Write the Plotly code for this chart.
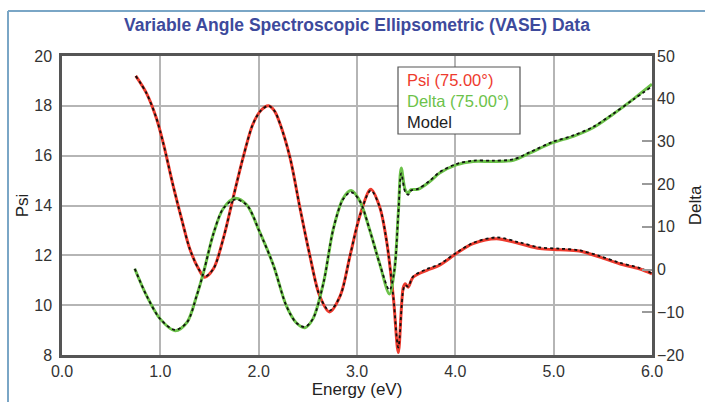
import plotly.graph_objects as go

# ---------------- data ----------------
energy_psi = [0.75, 0.86, 0.96, 1.03, 1.13, 1.22, 1.30, 1.39, 1.45, 1.54, 1.64, 1.74, 1.84, 1.94, 2.02, 2.10,
              2.16, 2.22, 2.32, 2.42, 2.52, 2.62, 2.72, 2.83, 2.93, 3.03, 3.14, 3.23, 3.30, 3.37, 3.42,
              3.47, 3.49, 3.52, 3.57, 3.71, 3.84, 4.01, 4.18, 4.42, 4.65, 4.86, 5.06, 5.26, 5.47, 5.67,
              5.87, 6.00]
psi = [19.2, 18.5, 17.5, 16.5, 14.8, 13.4, 12.25, 11.45, 11.12, 11.46, 12.67, 14.3, 15.9, 17.25, 17.8, 18.0,
       17.8, 17.25, 15.9, 13.9, 12.0, 10.38, 9.73, 10.38, 12.0, 13.6, 14.65, 13.95, 12.6, 10.3, 8.1,
       10.7, 10.86, 10.72, 11.12, 11.4, 11.6, 12.07, 12.47, 12.67, 12.47, 12.27, 12.22, 12.17, 11.93, 11.66,
       11.46, 11.26]
model_psi = [19.2, 18.5, 17.5, 16.5, 14.8, 13.4, 12.25, 11.45, 11.14, 11.46, 12.67, 14.3, 15.9, 17.25, 17.8, 18.0,
             17.8, 17.25, 15.9, 13.9, 12.0, 10.38, 9.78, 10.38, 12.0, 13.6, 14.6, 13.95, 12.6, 10.3, 8.3,
             10.6, 10.8, 10.75, 11.15, 11.45, 11.65, 12.1, 12.5, 12.72, 12.52, 12.32, 12.27, 12.2, 11.97, 11.7,
             11.5, 11.28]

energy_delta = [0.74, 0.86, 1.00, 1.15, 1.27, 1.37, 1.44, 1.54, 1.64, 1.76, 1.88, 2.01, 2.15, 2.28, 2.38, 2.47,
                2.55, 2.66, 2.76, 2.86, 2.94, 3.03, 3.13, 3.23, 3.33, 3.38, 3.42, 3.45, 3.49, 3.52, 3.55,
                3.62, 3.74, 3.84, 4.01, 4.18, 4.38, 4.59, 4.76, 4.99, 5.20, 5.40, 5.60, 5.81, 6.00]
delta = [0.2, -6.1, -11.6, -14.3, -12.4, -6.1, -0.6, 8.4, 14.3, 16.7, 15.1, 8.8, 1.0, -8.4, -12.4, -13.6,
         -11.6, -3.0, 9.6, 16.7, 18.5, 16.0, 9.2, 1.4, -5.7, -0.2, 13.2, 23.8, 18.7, 17.9, 18.7,
         18.8, 20.6, 22.6, 24.5, 25.3, 25.3, 25.6, 27.3, 29.7, 31.2, 33.2, 36.3, 39.9, 43.4]
model_delta = [0.2, -6.1, -11.6, -14.1, -12.4, -6.1, -0.6, 8.4, 14.3, 16.4, 15.1, 8.8, 1.0, -8.4, -12.4, -13.4,
               -11.6, -3.0, 9.6, 16.5, 18.1, 16.0, 9.2, 1.4, -4.8, -0.2, 13.0, 22.5, 18.2, 17.5, 18.5,
               18.9, 20.8, 22.8, 24.7, 25.5, 25.5, 25.8, 27.5, 29.9, 31.4, 33.4, 36.4, 39.8, 42.9]

psi_ticks = [8, 10, 12, 14, 16, 18, 20]
delta_ticks = [-20, -10, 0, 10, 20, 30, 40, 50]
energy_ticks = [0, 1, 2, 3, 4, 5, 6]
energy_labels = ["0.0", "1.0", "2.0", "3.0", "4.0", "5.0", "6.0"]
legend_labels = ["Psi (75.00°)", "Delta (75.00°)", "Model"]

RED = "#ee3b2e"
GREEN = "#6cc24a"
FONT = "Liberation Sans, Arial, sans-serif"
SMOOTH = 0.9

fig = go.Figure()
fig.add_trace(go.Scatter(x=energy_psi, y=psi, mode="lines", line=dict(color=RED, width=3, shape="spline", smoothing=SMOOTH),
                         name=legend_labels[0], yaxis="y"))
fig.add_trace(go.Scatter(x=energy_delta, y=delta, mode="lines", line=dict(color=GREEN, width=3, shape="spline", smoothing=SMOOTH),
                         name=legend_labels[1], yaxis="y2"))
fig.add_trace(go.Scatter(x=energy_psi, y=model_psi, mode="lines", line=dict(color="#111111", width=1.8, dash="dot", shape="spline", smoothing=SMOOTH),
                         name=legend_labels[2], yaxis="y"))
fig.add_trace(go.Scatter(x=energy_delta, y=model_delta, mode="lines", line=dict(color="#111111", width=1.8, dash="dot", shape="spline", smoothing=SMOOTH),
                         name=legend_labels[2], yaxis="y2"))

# plot area: x 62..652, y 56..355
L, R, T, B = 62, 53, 56, 47
W, H = 705, 402
pw, ph = W - L - R, H - T - B

def px(xpix):
    return (xpix - L) / pw

def py(ypix):
    return 1 - (ypix - T) / ph

fig.update_layout(
    width=W, height=H,
    margin=dict(l=L, r=R, t=T, b=B, pad=0, autoexpand=False),
    paper_bgcolor="white", plot_bgcolor="white",
    showlegend=False,
    font=dict(family=FONT, size=16, color="#333333"),
    title=dict(text="<b>Variable Angle Spectroscopic Ellipsometric (VASE) Data</b>",
               font=dict(family=FONT, size=17.5, color="#3d4a9c"),
               x=0.5, xref="paper", xanchor="center", y=1 - 25 / H, yanchor="middle"),
    xaxis=dict(range=[0, 6], tickvals=energy_ticks, ticktext=energy_labels,
               showgrid=True, gridcolor="#b5b5b5", gridwidth=1.5,
               showline=True, linecolor="#555555", linewidth=2.5, mirror=True,
               ticks="", zeroline=False, automargin=False,
               title=dict(text="Energy (eV)", font=dict(size=17, color="#222222"), standoff=2),
               tickfont=dict(size=16, color="#333333")),
    yaxis=dict(range=[8, 20], tickvals=psi_ticks,
               showgrid=True, gridcolor="#b5b5b5", gridwidth=1.5,
               showline=True, linecolor="#555555", linewidth=2.5, mirror=True,
               ticks="", zeroline=False, automargin=False, ticklabelstandoff=4,
               title=dict(text="Psi", font=dict(size=17, color="#222222"), standoff=2),
               tickfont=dict(size=16, color="#333333")),
    yaxis2=dict(range=[-20, 50], tickvals=delta_ticks, overlaying="y", side="right",
                showgrid=False, zeroline=False, showline=False, automargin=False,
                ticks="inside", ticklen=10, tickcolor="#9a9a9a", tickwidth=1.5,
                ticklabelstandoff=4,
                title=dict(text="Delta", font=dict(size=17, color="#222222"), standoff=8),
                tickfont=dict(size=16, color="#333333")),
)

# legend box (text-only, coloured entries)
fig.add_shape(type="rect", xref="paper", yref="paper", x0=px(398), x1=px(520), y0=py(67), y1=py(134),
              line=dict(color="#555555", width=1.2), fillcolor="white", layer="above")
legend_colors = [RED, GREEN, "#222222"]
legend_y = [79.5, 101, 122.5]
for lab, col, yy in zip(legend_labels, legend_colors, legend_y):
    fig.add_annotation(xref="paper", yref="paper", x=px(405), y=py(yy), xanchor="left", yanchor="middle",
                       text=lab, showarrow=False, font=dict(family=FONT, size=16.5, color=col))

# outer frame lines (left and top)
fig.add_shape(type="line", xref="paper", yref="paper", x0=px(8), x1=px(8), y0=py(11), y1=py(402),
              line=dict(color="#7aa6c6", width=2))
fig.add_shape(type="line", xref="paper", yref="paper", x0=px(8), x1=px(705), y0=py(11), y1=py(11),
              line=dict(color="#7aa6c6", width=2))

fig.write_html("out.html", config={"displayModeBar": False},
               post_script="document.body.style.margin='0';document.body.style.overflow='hidden';")
